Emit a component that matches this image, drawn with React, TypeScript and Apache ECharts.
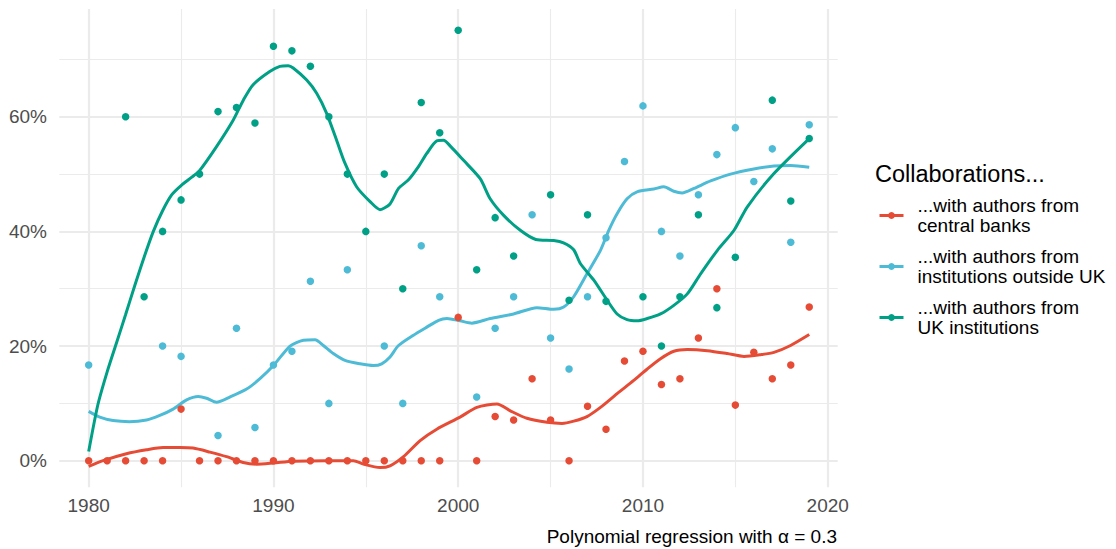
import React, { useEffect, useRef } from "react";
import * as echarts from "echarts";

// ---- data ----
const seriesNames = [
  "...with authors from\ncentral banks",
  "...with authors from\ninstitutions outside UK",
  "...with authors from\nUK institutions",
];
const seriesColors = ["#E64B35", "#4DBBD5", "#00A087"];
const legendTitle = "Collaborations...";
const caption = "Polynomial regression with \u03b1 = 0.3";

const xTickValues = [1980, 1990, 2000, 2010, 2020];
const yTickValues = [0, 20, 40, 60];
const xMajorGrid = [1980, 1990, 2000, 2010, 2020];
const xMinorGrid = [1985, 1995, 2005, 2015];
const yMajorGrid = [0, 20, 40, 60];
const yMinorGrid = [10, 30, 50, 70];

// observed shares (%), [year, value]
const centralBankPoints: [number, number][] = [
  [1980, 0], [1981, 0], [1982, 0], [1983, 0], [1984, 0], [1985, 9.0], [1986, 0], [1987, 0],
  [1988, 0], [1989, 0], [1990, 0], [1991, 0], [1992, 0], [1993, 0], [1994, 0], [1995, 0],
  [1996, 0], [1997, 0], [1998, 0], [1999, 0], [2000, 25.0], [2001, 0], [2002, 7.7], [2003, 7.1],
  [2004, 14.3], [2005, 7.1], [2006, 0], [2007, 9.5], [2008, 5.5], [2009, 17.4], [2010, 19.1],
  [2011, 13.3], [2012, 14.3], [2013, 21.4], [2014, 30.0], [2015, 9.7], [2016, 18.9], [2017, 14.3],
  [2018, 16.7], [2019, 26.8],
];
const outsideUkPoints: [number, number][] = [
  [1980, 16.7], [1984, 20.0], [1985, 18.2], [1987, 4.4], [1988, 23.1], [1989, 5.8], [1990, 16.7],
  [1991, 19.1], [1992, 31.3], [1993, 10.0], [1994, 33.3], [1996, 20.0], [1997, 10.0], [1998, 37.5],
  [1999, 28.6], [2001, 11.1], [2002, 23.1], [2003, 28.6], [2004, 42.9], [2005, 21.4], [2006, 16.0],
  [2007, 28.6], [2008, 38.9], [2009, 52.2], [2010, 61.9], [2011, 40.0], [2012, 35.7], [2013, 46.4],
  [2014, 53.4], [2015, 58.1], [2016, 48.7], [2017, 54.4], [2018, 38.1], [2019, 58.6],
];
const ukPoints: [number, number][] = [
  [1982, 60.0], [1983, 28.6], [1984, 40.0], [1985, 45.5], [1986, 50.0], [1987, 60.9], [1988, 61.6],
  [1989, 58.9], [1990, 72.3], [1991, 71.5], [1992, 68.8], [1993, 60.0], [1994, 50.0], [1995, 40.0],
  [1996, 50.0], [1997, 30.0], [1998, 62.5], [1999, 57.2], [2000, 75.1], [2001, 33.3], [2002, 42.4],
  [2003, 35.7], [2005, 46.4], [2006, 28.0], [2007, 42.9], [2008, 27.8], [2010, 28.6], [2011, 20.0],
  [2012, 28.6], [2013, 42.9], [2014, 26.7], [2015, 35.5], [2017, 62.9], [2018, 45.3], [2019, 56.2],
];

// fitted curves (%), [year, value]
const centralBankFit: [number, number][] = [
  [1980, -1.0], [1980.78, 0.0], [1982.04, 1.2], [1983.13, 1.9], [1984.03, 2.3], [1984.93, 2.3],
  [1985.65, 2.2], [1986.56, 1.5], [1987.46, 0.7], [1988.36, -0.3], [1989.09, -0.6], [1990.0, -0.4],
  [1991.07, -0.1], [1992.88, 0.0], [1994.33, 0.0], [1994.87, -0.6], [1995.77, -1.2], [1996.31, -0.9],
  [1997.04, 0.7], [1997.94, 3.5], [1998.84, 5.5], [2000.1, 7.6], [2001.01, 9.3], [2002.1, 9.9],
  [2002.82, 8.7], [2003.72, 7.4], [2004.81, 6.7], [2005.62, 6.5], [2006.25, 6.9], [2006.97, 7.7],
  [2007.7, 9.3], [2008.6, 11.7], [2009.5, 14.0], [2010.23, 16.0], [2010.95, 17.8], [2011.67, 19.1],
  [2012.4, 19.4], [2013.48, 19.2], [2014.56, 18.7], [2015.47, 18.2], [2016.37, 18.5], [2017.09, 18.9],
  [2017.99, 20.1], [2019.0, 22.0],
];
const outsideUkFit: [number, number][] = [
  [1980, 8.6], [1980.6, 7.6], [1981.32, 7.0], [1982.2, 6.8], [1983.13, 7.1], [1983.85, 7.9],
  [1984.57, 9.0], [1985.3, 10.6], [1985.93, 11.2], [1986.38, 10.9], [1986.92, 10.2], [1987.64, 11.1],
  [1988.55, 12.5], [1989.27, 14.3], [1990.0, 16.6], [1990.9, 20.0], [1991.62, 21.0], [1992.25, 21.1],
  [1992.7, 20.1], [1993.24, 18.7], [1993.87, 17.5], [1994.69, 16.9], [1995.41, 16.6], [1995.86, 16.9],
  [1996.31, 18.1], [1996.77, 20.1], [1997.58, 21.9], [1998.3, 23.3], [1998.94, 24.5], [1999.39, 24.8],
  [2000.1, 24.4], [2000.74, 24.0], [2001.73, 24.8], [2003.0, 25.6], [2004.26, 26.7], [2005.17, 26.4],
  [2005.71, 26.8], [2006.25, 28.6], [2006.97, 32.6], [2007.7, 36.7], [2008.15, 40.2], [2008.6, 43.1],
  [2009.14, 45.7], [2009.68, 46.9], [2010.59, 47.4], [2011.13, 47.8], [2011.67, 47.0], [2012.12, 46.7],
  [2012.76, 47.5], [2013.66, 48.8], [2014.74, 50.0], [2016.0, 50.9], [2017.09, 51.4], [2017.99, 51.5],
  [2019.0, 51.2],
];
const ukFit: [number, number][] = [
  [1980, 1.6], [1980.5, 9.8], [1981, 15.5], [1981.5, 20.5], [1982, 25.5], [1982.5, 30.6], [1983, 35.5],
  [1983.5, 40.0], [1984, 43.6], [1984.5, 46.4], [1985, 48.0], [1985.6, 49.5], [1986, 50.6],
  [1986.92, 54.8], [1987.82, 59.4], [1988.37, 62.9], [1988.9, 65.6], [1989.8, 67.9], [1990.35, 68.8],
  [1990.8, 68.9], [1991.07, 68.5], [1991.8, 66.4], [1992.34, 64.1], [1992.88, 60.6], [1993.42, 55.9],
  [1993.87, 51.9], [1994.5, 47.8], [1995.23, 45.2], [1995.77, 43.8], [1996.31, 44.8], [1996.77, 47.5],
  [1997.31, 49.0], [1997.85, 51.3], [1998.3, 53.6], [1998.84, 55.8], [1999.2, 55.9], [1999.6, 54.8],
  [2000.29, 52.4], [2001.19, 49.2], [2001.73, 45.7], [2002.46, 42.8], [2003.36, 40.2], [2004.2, 38.6],
  [2005.17, 38.4], [2005.7, 38.0], [2006.25, 36.8], [2006.61, 34.4], [2007.34, 31.5], [2008.06, 28.0],
  [2008.6, 25.6], [2009.14, 24.6], [2009.68, 24.4], [2010.23, 24.8], [2010.95, 25.6], [2011.67, 27.1],
  [2012.4, 29.1], [2013.12, 32.6], [2014.03, 36.7], [2014.93, 40.2], [2015.65, 44.3], [2017.09, 50.1],
  [2019.0, 56.2],
];

const FONT = "'Liberation Sans', Arial, Helvetica, sans-serif";
const GRID_COLOR = "#EBEBEB";

export default function App() {
  const ref = useRef<HTMLDivElement>(null);

  useEffect(() => {
    if (!ref.current) return;
    const chart = echarts.init(ref.current, null, { renderer: "svg" });

    const fits = [centralBankFit, outsideUkFit, ukFit];
    const points = [centralBankPoints, outsideUkPoints, ukPoints];

    const gridLines = [
      ...xMajorGrid.map((v) => ({ xAxis: v, lineStyle: { width: 2.2, color: GRID_COLOR, type: "solid" } })),
      ...xMinorGrid.map((v) => ({ xAxis: v, lineStyle: { width: 1.1, color: GRID_COLOR, type: "solid" } })),
      ...yMajorGrid.map((v) => ({ yAxis: v, lineStyle: { width: 2.2, color: GRID_COLOR, type: "solid" } })),
      ...yMinorGrid.map((v) => ({ yAxis: v, lineStyle: { width: 1.1, color: GRID_COLOR, type: "solid" } })),
    ];

    const lineSeries = fits.map((d, i) => ({
      name: seriesNames[i],
      type: "line",
      data: d,
      smooth: 0.25,
      showSymbol: false,
      symbol: "circle",
      color: seriesColors[i],
      lineStyle: { width: 3, color: seriesColors[i] },
      itemStyle: { color: seriesColors[i] },
      z: 3,
      silent: true,
    }));

    const scatterOrder = [2, 1, 0];
    const scatterSeries = scatterOrder.map((i, k) => ({
      name: "points-" + i,
      type: "scatter",
      data: points[i],
      symbol: "circle",
      symbolSize: 7.5,
      itemStyle: { color: seriesColors[i], opacity: 1 },
      z: 5 + k,
      silent: true,
    }));

    chart.setOption({
      animation: false,
      grid: { left: 59.3, right: 278.3, top: 9, bottom: 61.7, containLabel: false },
      xAxis: {
        type: "value",
        min: 1978.41,
        max: 2020.54,
        axisLine: { show: false },
        axisTick: { show: false },
        splitLine: { show: false },
        axisLabel: {
          customValues: xTickValues,
          fontSize: 19,
          lineHeight: 19,
          color: "#4D4D4D",
          fontFamily: FONT,
          margin: 8.5,
          formatter: (v: number) => String(v),
        },
      },
      yAxis: {
        type: "value",
        min: -4.64,
        max: 78.8,
        axisLine: { show: false },
        axisTick: { show: false },
        splitLine: { show: false },
        axisLabel: {
          customValues: yTickValues,
          fontSize: 19,
          color: "#4D4D4D",
          fontFamily: FONT,
          margin: 12.3,
          formatter: (v: number) => v + "%",
        },
      },
      legend: {
        data: seriesNames,
        orient: "vertical",
        left: 878,
        top: 196,
        padding: 0,
        itemWidth: 24,
        itemHeight: 8.5,
        itemGap: 12,
        selectedMode: false,
        lineStyle: { width: 3 },
        textStyle: {
          fontSize: 19,
          lineHeight: 19.5,
          color: "#000000",
          fontFamily: FONT,
          padding: [0, 0, 0, 9],
        },
      },
      graphic: [
        {
          type: "text",
          left: 875,
          top: 161.5,
          style: {
            text: legendTitle,
            fontSize: 23.5,
            fontFamily: FONT,
            fill: "#000000",
          },
        },
        {
          type: "text",
          right: 1116 - 837,
          top: 527,
          style: {
            text: caption,
            fontSize: 19,
            fontFamily: FONT,
            fill: "#000000",
          },
        },
      ],
      series: [
        {
          name: "grid",
          type: "line",
          data: [],
          z: 0,
          silent: true,
          markLine: {
            z: 1,
            silent: true,
            symbol: ["none", "none"],
            label: { show: false },
            emphasis: { disabled: true },
            animation: false,
            data: gridLines,
          },
        },
        ...lineSeries,
        ...scatterSeries,
      ],
    });

    return () => {
      chart.dispose();
    };
  }, []);

  return (
    <div
      ref={ref}
      style={{ position: "fixed", left: 0, top: 0, width: 1116, height: 549, background: "#ffffff" }}
    />
  );
}
